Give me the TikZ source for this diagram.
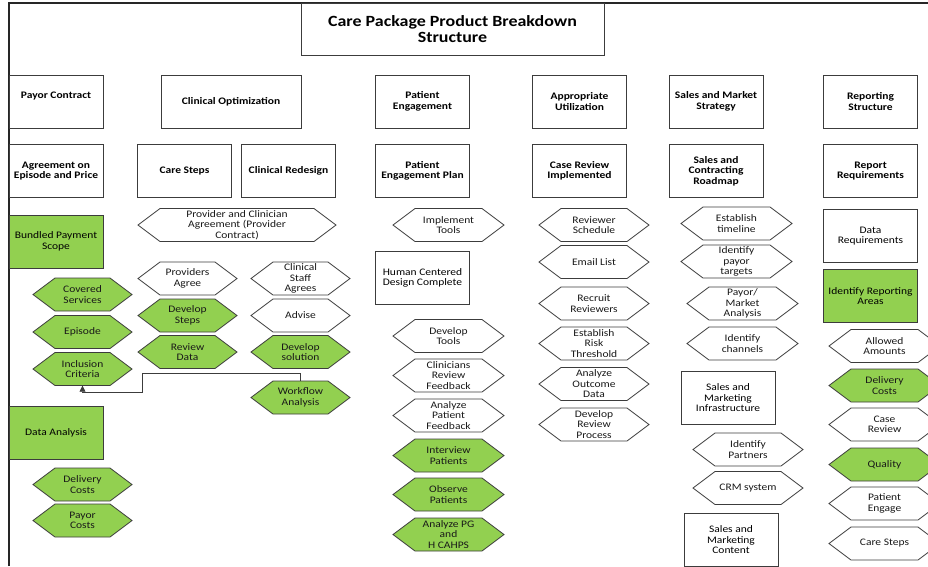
\documentclass[tikz,border=0pt]{standalone}
\usepackage{fontspec}
\setmainfont{Carlito}[FakeStretch=1.15]
\usetikzlibrary{arrows.meta}
\definecolor{hgreen}{RGB}{146,208,80}
\definecolor{edge}{RGB}{60,60,60}
\tikzset{
  box/.style={draw=edge, line width=0.9pt, minimum width=94pt, minimum height=53pt,
    inner sep=1pt, align=center, text=black, font=\bfseries\fontsize{10}{10.5}\selectfont},
  subbox/.style={box, font=\fontsize{10}{10.5}\selectfont},
  gbox/.style={subbox, fill=hgreen},
  titlebox/.style={box, minimum width=303pt, minimum height=52pt, font=\bfseries\fontsize{15.6}{15.5}\selectfont},
  hexw/.style={draw=edge, line width=0.8pt, fill=white},
  hexg/.style={draw=edge, line width=0.8pt, fill=hgreen},
  hextext/.style={minimum height=33pt, inner sep=0pt, align=center, text=black!90,
    font=\fontsize{10}{10.5}\selectfont},
  conn/.style={draw=edge, line width=0.8pt, -{Triangle[length=6pt,width=6pt]}},
  frame/.style={line width=2pt, draw=black!85}
}
\newcommand\hexnode[6]{%
  \path[#5] ({#2-#4/2},#3) -- ({#2-#4/2+22},{#3-16.5}) -- ({#2+#4/2-22},{#3-16.5})
    -- ({#2+#4/2},#3) -- ({#2+#4/2-22},{#3+16.5}) -- ({#2-#4/2+22},{#3+16.5}) -- cycle;
  \node[hextext, minimum width=#4pt] (#1) at (#2,#3) {#6};}
\begin{document}
\begin{tikzpicture}[x=1pt, y=-1pt]
\useasboundingbox (0,0) rectangle (928,566);
\clip (0,0) rectangle (928,566);
\fill[white] (0,0) rectangle (928,566);
\draw[frame] (8.5,566) -- (8.5,2.5) -- (928,2.5);

% title
\node[titlebox] (title) at (452.5,29) {Care Package Product Breakdown\\Structure};

% level 1
\node[box, text depth=12pt] (payor) at (56,101.5) {Payor Contract};
\node[box, minimum width=140pt] (clinopt) at (231,101.5) {Clinical Optimization};
\node[box] (pateng) at (422.5,101.5) {Patient\\Engagement};
\node[box] (approp) at (579.5,101.5) {Appropriate\\Utilization};
\node[box] (sales) at (716,101.5) {Sales and Market\\Strategy};
\node[box] (report) at (870.5,101.5) {Reporting\\Structure};

% level 2
\node[box] (agree) at (56,171) {Agreement on\\Episode and Price};
\node[box] (caresteps) at (184.5,171) {Care Steps};
\node[box] (redesign) at (288.5,171) {Clinical Redesign};
\node[box] (pep) at (422.5,171) {Patient\\Engagement Plan};
\node[box] (crimpl) at (579.5,171) {Case Review\\Implemented};
\node[box] (scr) at (716,171) {Sales and\\Contracting\\Roadmap};
\node[box] (rreq) at (870.5,171) {Report\\Requirements};

% column: payor contract
\node[gbox] (bundled) at (56,241.5) {Bundled Payment\\Scope};
\hexnode{cov}{82.5}{294.5}{99}{hexg}{Covered\\Services}
\hexnode{epi}{82.5}{332}{99}{hexg}{Episode}
\hexnode{incl}{82.5}{369}{99}{hexg}{Inclusion\\Criteria}
\node[gbox] (danal) at (56,432.5) {Data Analysis};
\hexnode{dcost}{82.5}{484.5}{99}{hexg}{Delivery\\Costs}
\hexnode{pcost}{82.5}{520.5}{99}{hexg}{Payor\\Costs}

% column: clinical optimization
\hexnode{pca}{237}{225}{198}{hexw}{Provider and Clinician\\Agreement (Provider\\Contract)}
\hexnode{pagree}{187.5}{278.5}{99}{hexw}{Providers\\Agree}
\hexnode{dsteps}{187.5}{315.5}{99}{hexg}{Develop\\Steps}
\hexnode{rdata}{187.5}{352}{99}{hexg}{Review\\Data}
\hexnode{staff}{300.5}{278.5}{99}{hexw}{Clinical\\Staff\\Agrees}
\hexnode{advise}{300.5}{315.5}{99}{hexw}{Advise}
\hexnode{dsol}{300.5}{352}{99}{hexg}{Develop\\solution}
\hexnode{wf}{300.5}{397.5}{99}{hexg}{Workflow\\Analysis}

% connector workflow -> inclusion criteria
\coordinate (k1) at (142,373);
\coordinate (k2) at (142,392);
\draw[conn] (wf.north) |- (k1) -- (k2) -| (incl.south);

% column: patient engagement
\hexnode{itools}{448.5}{225}{111}{hexw}{Implement\\Tools}
\node[subbox] (hcd) at (422.5,278) {Human Centered\\Design Complete};
\hexnode{dtools}{448.5}{336}{111}{hexw}{Develop\\Tools}
\hexnode{crf}{448.5}{375.5}{111}{hexw}{Clinicians\\Review\\Feedback}
\hexnode{apf}{448.5}{415.5}{111}{hexw}{Analyze\\Patient\\Feedback}
\hexnode{intp}{448.5}{455.5}{111}{hexg}{Interview\\Patients}
\hexnode{obsp}{448.5}{494.5}{111}{hexg}{Observe\\Patients}
\hexnode{apg}{448.5}{534.5}{111}{hexg}{Analyze PG\\and\\H CAHPS}

% column: appropriate utilization
\hexnode{rsched}{594}{225}{110}{hexw}{Reviewer\\Schedule}
\hexnode{email}{594}{262}{110}{hexw}{Email List}
\hexnode{recruit}{594}{303.5}{110}{hexw}{Recruit\\Reviewers}
\hexnode{risk}{594}{343.5}{110}{hexw}{Establish\\Risk\\Threshold}
\hexnode{outcome}{594}{384}{110}{hexw}{Analyze\\Outcome\\Data}
\hexnode{devrev}{594}{424.5}{110}{hexw}{Develop\\Review\\Process}

% column: sales and market strategy
\hexnode{etime}{736.5}{223.5}{111}{hexw}{Establish\\timeline}
\hexnode{ipayor}{736.5}{261.5}{111}{hexw}{Identify\\payor\\targets}
\hexnode{pma}{742.5}{303.5}{111}{hexw}{Payor/\\Market\\Analysis}
\hexnode{ichan}{742.5}{343.5}{111}{hexw}{Identify\\channels}
\node[subbox] (smi) at (728,398) {Sales and\\Marketing\\Infrastructure};
\hexnode{ipart}{748}{449.5}{110}{hexw}{Identify\\Partners}
\hexnode{crm}{748}{488}{110}{hexw}{CRM system}
\node[subbox] (smc) at (731,540) {Sales and\\Marketing\\Content};

% column: reporting structure
\node[subbox] (dreq) at (870.5,236) {Data\\Requirements};
\node[gbox] (ira) at (870.5,296) {Identify Reporting\\Areas};
\hexnode{allowed}{884.5}{346}{111}{hexw}{Allowed\\Amounts}
\hexnode{rdcost}{884.5}{385.5}{111}{hexg}{Delivery\\Costs}
\hexnode{creview}{884.5}{424.5}{111}{hexw}{Case\\Review}
\hexnode{quality}{884.5}{464.5}{111}{hexg}{Quality}
\hexnode{peng}{884.5}{503.5}{111}{hexw}{Patient\\Engage}
\hexnode{csteps}{884.5}{543.5}{111}{hexw}{Care Steps}
\end{tikzpicture}
\end{document}
